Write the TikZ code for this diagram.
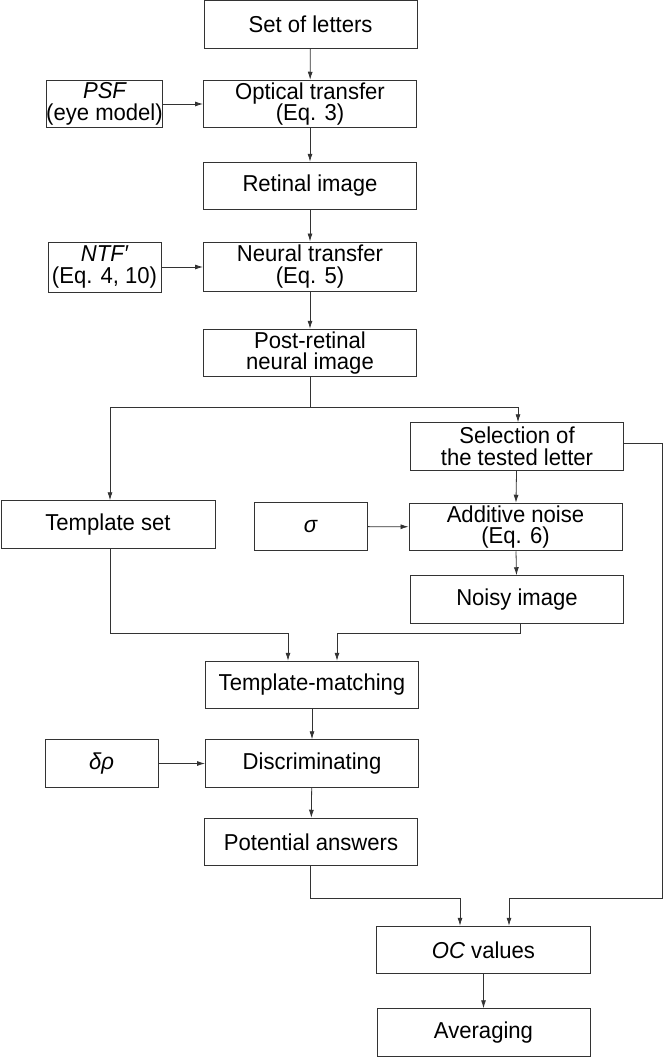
\documentclass[tikz,border=0pt]{standalone}
\usepackage{fontspec}
\setmainfont{Liberation Sans}[FakeStretch=0.96]
\usetikzlibrary{arrows.meta,calc}
\begin{document}
\begin{tikzpicture}[x=1pt,y=-1pt,
  box/.style={draw=black!80,line width=1pt,rectangle,inner sep=0pt,align=center,
    font=\fontsize{23}{21.5}\selectfont},
  wide/.style={box,minimum width=213pt,minimum height=47.5pt},
  narrow/.style={box,minimum width=113pt,minimum height=47.5pt},
  conn/.style={draw=black!80,line width=0.8pt},
  arr/.style={conn,-{Latex[length=8pt,width=5pt]}}]
\useasboundingbox (0,0) rectangle (663,1057);
% nodes
\node[wide] (letters) at (310.5,24.5) {Set of letters};
\node[wide] (optical) at (310,104) {Optical transfer\\(Eq. 3)};
\node[narrow] (psf) at (104.5,104) {\itshape PSF\\(eye model)};
\node[wide] (retinal) at (310,186) {Retinal image};
\node[narrow,minimum height=50pt] (ntf) at (104.5,267) {\itshape NTF′\\(Eq. 4, 10)};
\node[wide,minimum height=49pt] (neural) at (310,266.5) {Neural transfer\\(Eq. 5)};
\node[wide] (post) at (310,353) {Post-retinal\\neural image};
\node[wide] (sel) at (517,446.5) {Selection of\\the tested letter};
\node[wide,minimum width=214pt] (tset) at (108,524.5) {Template set};
\node[narrow] (sigma) at (310.5,526.5) {\itshape σ};
\node[wide] (noise) at (515.5,527) {Additive noise\\(Eq. 6)};
\node[wide] (noisy) at (517,599.5) {Noisy image};
\node[wide] (tm) at (312,685) {Template-matching};
\node[narrow] (drho) at (101.5,763.5) {\itshape δρ};
\node[wide] (disc) at (312,763.5) {Discriminating};
\node[wide] (pot) at (311,842) {Potential answers};
\node[wide,minimum width=214pt] (oc) at (483.5,950) {\itshape OC\upshape\ values};
\node[wide] (avg) at (483.5,1032.5) {Averaging};
% coordinates
\coordinate (split) at (310,407);
\coordinate (tsl) at (110,407);
\coordinate (sll) at (518,407);
\coordinate (r1) at (662,443);
\coordinate (r2) at (662,898);
\coordinate (r3) at (509,898);
\coordinate (t1) at (110,633);
\coordinate (t2) at (288,633);
\coordinate (n1) at (520,633);
\coordinate (n2) at (337,633);
\coordinate (p1) at (310,898);
\coordinate (p2) at (460,898);
% connectors
\draw[arr] (letters) -- (optical);
\draw[arr] (psf) -- (optical);
\draw[arr] (optical) -- (retinal);
\draw[arr] (retinal) -- (neural);
\draw[arr] (ntf.east) -- (ntf.east -| neural.west);
\draw[arr] (neural) -- (post);
\draw[conn] (post.south) -- (split);
\draw[arr] (tsl) -- (tsl |- tset.north);
\draw[arr] (sll) -- (sll |- sel.north);
\draw[conn] (tsl) -- (sll);
\draw[arr] (sel.east |- r1) -- (r1) -- (r2) -- (r3) -- (r3 |- oc.north);
\draw[arr] (sel) -- (noise);
\draw[arr] (sigma) -- (noise);
\draw[arr] (noise) -- (noisy);
\draw[arr] (t1 |- tset.south) -- (t1) -- (t2) -- (t2 |- tm.north);
\draw[arr] (n1 |- noisy.south) -- (n1) -- (n2) -- (n2 |- tm.north);
\draw[arr] (tm) -- (disc);
\draw[arr] (drho) -- (disc);
\draw[arr] (disc) -- (pot);
\draw[arr] (p1 |- pot.south) -- (p1) -- (p2) -- (p2 |- oc.north);
\draw[arr] (oc) -- (avg);
\end{tikzpicture}
\end{document}
